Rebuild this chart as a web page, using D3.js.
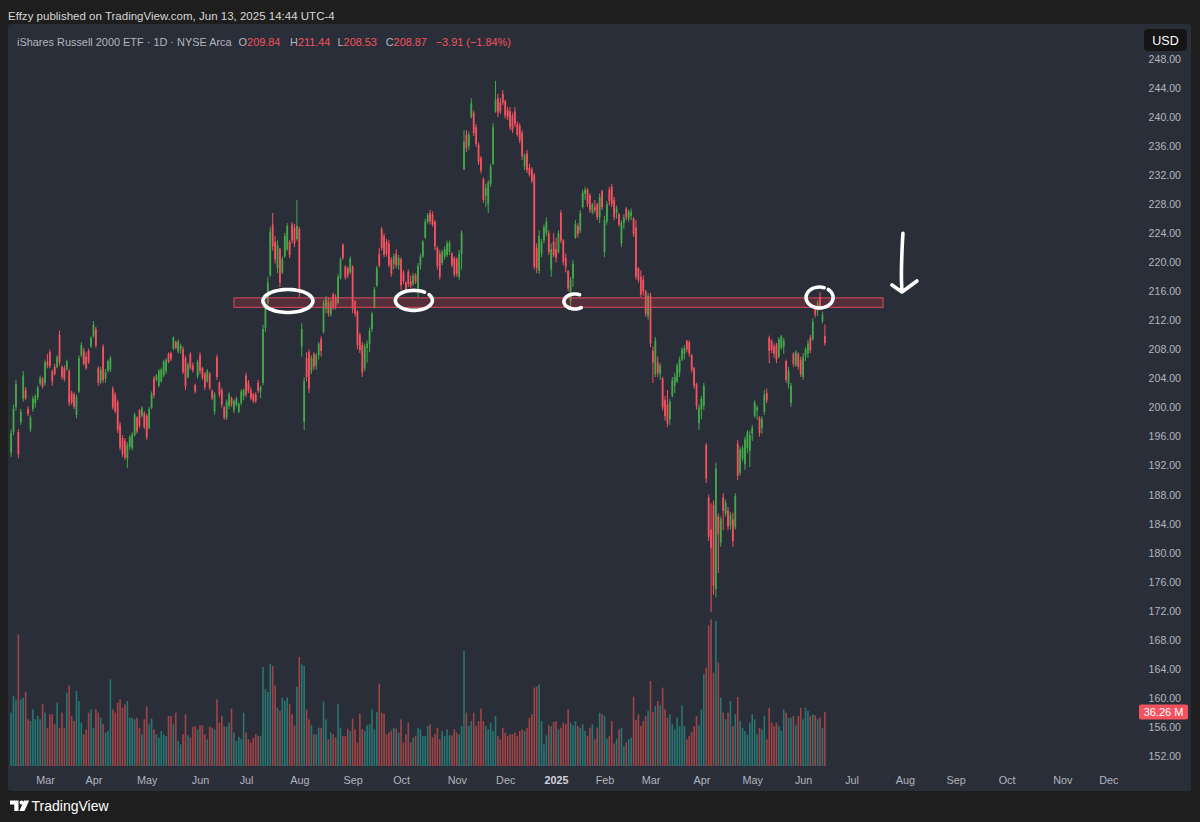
<!DOCTYPE html>
<html><head><meta charset="utf-8">
<script src="https://cdn.jsdelivr.net/npm/d3@7"></script>
<style>
html,body{margin:0;padding:0;background:#1e1e1e;overflow:hidden;}
svg{display:block;}
text{font-family:"Liberation Sans",Arial,sans-serif;}
</style></head><body>
<svg id="c" width="1200" height="822"></svg>
<script>
// ---------- DATA (IWM daily) ----------
const holidays = ["2024-02-19","2024-03-29","2024-05-27","2024-06-19","2024-07-04","2024-09-02","2024-11-28","2024-12-25",
  "2025-01-01","2025-01-09","2025-01-20","2025-02-17","2025-04-18","2025-05-26","2025-06-19","2025-07-04","2025-09-01","2025-11-27","2025-12-25"];
const firstDay = "2024-02-09", calendarEnd = "2025-12-31";

// [open, high, low, close]
const feb2024 = [[193.8,197.0,193.2,196.5],[196.6,200.4,196.2,199.8],[200.0,203.8,199.6,203.2],[196.6,197.0,193.0,193.6],[198.0,199.8,197.6,199.4],
[201.2,205.0,200.8,204.4],[202.4,202.8,201.0,201.3],[199.8,200.2,198.8,199.1],[197.0,198.9,196.6,198.6],[199.8,201.6,199.4,201.2],
[200.6,201.8,200.0,201.5],[201.4,203.0,201.0,202.7],[203.3,204.4,203.0,204.1],[203.9,204.2,202.6,202.9]];
const mar2024 = [[203.4,206.6,203.0,206.2],[206.3,207.4,205.4,205.8],[207.6,208.0,205.4,205.7],[205.0,205.2,203.0,203.6],[205.6,206.0,204.4,204.6],
[205.6,207.2,205.4,206.9],[210.0,210.6,205.8,206.2],[205.6,205.8,203.8,204.2],[205.4,205.8,203.6,203.9],[205.3,206.6,205.0,206.3],
[205.0,205.3,200.2,200.6],[202.0,202.3,200.4,200.7],[201.8,202.1,199.8,200.1],[199.0,201.8,198.5,201.5],[202.2,207.2,202.0,206.8],
[207.2,209.0,206.9,208.6],[207.8,208.2,205.8,206.0],[207.0,207.6,205.2,205.4],[207.8,208.1,206.0,206.3],[208.4,209.8,208.2,209.6]];
const apr2024 = [[209.8,211.9,209.6,211.4],[210.8,211.1,208.2,208.5],[205.4,205.7,203.0,203.4],[203.6,205.6,203.2,205.2],[208.4,208.7,203.4,203.8],
[204.0,205.3,203.4,204.8],[205.1,206.6,204.8,206.4],[205.2,207.1,204.9,206.8],[202.6,202.9,199.7,200.0],[201.8,202.1,199.2,199.5],
[200.8,201.1,196.5,196.9],[197.6,198.0,194.1,194.5],[195.8,196.2,193.2,193.6],[195.4,195.8,192.8,193.1],[193.0,195.2,191.7,194.8],
[194.6,196.2,194.2,195.9],[194.4,196.6,194.1,196.3],[196.2,199.3,196.0,199.0],[198.6,198.8,196.4,196.7],[199.6,199.8,197.2,197.5],
[198.9,200.2,198.6,199.9],[199.2,199.5,197.0,197.3]];
const may2024 = [[198.8,199.1,195.5,195.9],[197.2,200.1,197.0,199.8],[200.0,202.2,199.8,201.9],[204.0,204.3,201.3,201.7],[203.8,204.6,203.6,204.4],
[203.0,205.3,202.8,205.0],[203.6,205.5,203.4,205.2],[204.4,206.6,204.2,206.3],[205.0,206.8,204.6,206.5],[207.4,207.6,206.1,206.3],
[207.5,207.7,206.4,206.7],[208.1,209.8,207.9,209.6],[209.0,209.2,208.0,208.2],[207.7,209.4,207.5,209.1],[208.0,208.8,207.4,208.5],
[208.0,208.4,204.6,204.9],[206.8,207.1,202.4,202.9],[204.2,206.2,204.0,205.9],[207.4,207.6,205.2,205.5],[205.8,206.2,204.8,205.1],
[203.1,203.3,201.9,202.2],[204.3,206.6,204.0,206.3]];
const jun2024 = [[207.2,207.6,204.6,205.0],[205.4,205.6,203.8,204.1],[204.6,204.9,202.4,202.8],[203.6,205.3,203.4,205.0],[204.6,204.9,202.4,202.7],
[202.3,202.5,201.0,201.3],[199.4,202.1,199.0,201.8],[206.9,207.3,203.8,204.2],[203.4,203.6,201.4,201.8],[202.4,202.7,200.0,200.4],
[200.0,200.2,198.3,198.6],[198.6,201.1,198.3,200.8],[200.2,202.1,199.8,201.8],[201.3,201.5,200.1,200.4],[199.6,201.1,199.2,200.9],
[200.4,201.5,200.1,201.2],[199.4,200.7,199.2,200.5],[200.6,202.5,200.3,202.2],[201.6,202.6,201.0,202.4]];
const jul2024 = [[204.4,204.8,201.4,201.8],[203.4,203.8,202.0,202.3],[202.4,202.8,201.0,201.3],[201.8,202.0,200.6,200.9],[201.8,202.1,200.6,200.9],
[203.4,203.8,202.0,202.3],[202.2,203.0,201.3,202.8],[203.4,211.4,203.0,210.8],[211.0,214.6,210.4,213.8],[214.4,218.0,213.6,217.2],
[218.2,224.9,218.0,224.2],[225.2,226.8,221.6,222.2],[222.8,223.6,219.8,220.4],[219.2,223.0,218.5,222.4],[221.8,222.0,216.6,217.2],
[218.6,220.8,218.4,220.4],[220.8,224.0,220.6,223.6],[221.8,225.4,221.6,225.0],[222.8,223.1,220.6,221.0],[225.2,225.5,222.6,223.0],
[224.8,225.3,222.1,222.6],[223.2,228.6,223.0,225.0]];
const aug2024 = [[224.6,224.9,215.2,215.8],[208.4,211.6,207.0,210.8],[198.0,204.2,196.9,203.6],[206.8,207.6,203.6,204.2],[207.6,208.0,202.0,202.6],
[205.0,207.2,204.6,206.8],[207.4,207.6,205.2,205.6],[205.8,207.5,205.2,207.2],[207.2,209.0,206.6,208.8],[209.4,209.8,207.0,207.8],
[210.4,214.8,210.2,214.4],[213.6,215.4,213.0,215.0],[214.6,215.2,212.5,213.0],[212.8,215.0,212.5,214.6],[215.6,215.8,213.4,213.8],
[215.2,215.6,213.5,214.0],[214.4,218.4,214.2,218.0],[217.8,220.7,217.6,220.4],[222.4,222.6,220.3,220.6],[219.4,219.6,217.6,217.9],
[219.2,219.4,217.8,218.2],[218.6,220.8,218.4,220.5]];
const sep2024 = [[219.4,219.6,213.0,213.6],[214.6,214.8,212.5,212.9],[213.2,213.4,208.0,208.6],[210.0,210.3,207.5,207.9],[208.6,209.0,204.2,204.8],
[205.4,208.8,205.0,208.4],[208.2,209.2,206.2,208.8],[208.8,211.0,207.6,210.6],[210.8,213.2,210.4,212.9],[213.8,216.6,213.6,216.2],
[216.8,219.5,216.6,219.2],[221.2,222.0,219.3,219.6],[224.6,224.9,221.6,222.0],[223.6,224.0,220.7,221.0],[222.8,223.2,220.8,221.2],
[222.6,223.1,219.3,219.6],[220.4,220.7,218.0,218.4],[219.8,221.2,219.0,220.8],[221.2,221.8,219.2,219.6],[219.6,221.0,219.0,220.6]];
const oct2024 = [[220.4,220.7,216.2,216.8],[218.6,218.9,217.0,217.4],[217.2,217.4,215.8,216.0],[218.7,219.0,216.6,217.0],[217.4,218.2,216.4,216.8],
[217.0,218.5,216.7,218.2],[218.2,218.5,217.0,217.3],[216.0,219.9,215.2,219.5],[219.6,221.2,219.0,220.8],[220.8,223.1,220.6,222.8],
[223.4,226.0,223.2,225.6],[225.6,226.8,225.3,226.5],[226.8,227.2,225.2,225.6],[226.6,227.0,224.9,225.2],[225.6,225.8,221.7,222.2],
[222.0,222.2,219.0,219.5],[221.2,221.7,217.6,218.0],[219.9,221.7,219.6,221.4],[220.8,222.2,220.4,221.8],[221.0,223.0,220.7,222.6],
[221.4,223.0,221.0,222.7],[221.2,221.4,219.3,219.6],[220.6,220.8,218.0,218.3]];
const nov2024 = [[220.4,220.7,218.0,218.4],[218.0,221.7,217.6,221.2],[221.2,224.4,219.0,224.1],[232.8,238.2,232.7,236.6],[237.6,238.2,235.2,235.8],
[236.0,238.0,235.5,237.6],[240.0,242.6,239.8,241.9],[240.6,240.9,237.4,237.8],[238.6,239.0,235.9,236.3],[236.2,236.5,233.4,233.8],
[234.4,234.6,232.2,232.6],[231.4,231.7,228.2,228.6],[229.2,230.8,227.6,230.2],[228.0,231.3,226.8,231.0],[230.8,233.6,230.4,233.2],
[233.6,239.2,233.4,238.6],[240.8,245.0,240.6,242.4],[242.6,243.2,240.0,240.6],[242.0,242.6,240.4,240.8],[243.2,243.7,241.6,242.0]];
const dec2024 = [[242.2,242.4,239.8,240.2],[241.0,241.4,239.6,240.0],[240.8,241.4,238.2,238.6],[240.2,240.6,237.8,238.2],[240.8,241.4,238.6,239.0],
[239.0,239.4,237.3,237.6],[238.8,239.2,236.4,236.8],[237.8,238.2,234.1,234.6],[233.2,235.0,232.7,234.7],[235.0,235.5,232.3,232.7],
[233.0,233.6,231.8,232.1],[232.8,233.1,230.9,231.2],[232.0,232.3,219.0,219.4],[222.0,222.6,218.5,219.2],[218.8,224.4,218.4,223.6],
[221.2,223.2,220.7,222.8],[223.0,225.2,222.6,224.8],[224.0,226.2,223.6,225.6],[224.0,224.4,221.0,221.4],[219.0,222.6,218.0,221.8],
[222.8,224.0,220.7,221.0]];
const jan2025 = [[221.8,223.4,220.0,220.6],[221.4,224.4,221.2,224.0],[226.8,227.2,222.6,223.0],[223.0,223.2,219.6,220.0],[220.6,221.2,218.6,219.4],
[218.8,218.9,216.0,216.4],[214.6,218.0,213.8,217.6],[217.8,220.3,216.6,219.8],[223.4,225.8,223.2,225.2],[225.0,225.4,223.4,223.9],
[224.4,227.2,224.0,226.8],[227.6,230.0,227.4,229.6],[229.4,230.4,228.6,230.0],[230.0,230.2,227.6,228.0],[229.2,229.5,226.8,227.2],
[226.9,228.2,226.6,228.0],[227.6,228.6,226.8,227.2],[228.0,228.2,225.8,226.2],[226.2,229.5,225.4,229.0],[229.8,230.0,227.2,227.6]];
const feb2025 = [[221.4,226.4,220.7,225.8],[225.6,228.4,225.2,228.0],[230.0,230.4,227.8,228.4],[230.4,230.8,227.6,228.0],[228.6,229.0,225.8,226.2],
[226.8,227.8,226.0,227.4],[226.6,226.8,224.9,225.2],[222.6,225.8,222.1,225.4],[225.4,226.6,224.6,226.2],[227.4,227.6,225.8,226.2],
[226.0,227.2,225.6,227.0],[226.4,227.4,225.8,226.9],[226.0,226.2,223.5,223.9],[224.8,225.8,217.6,218.0],[219.2,219.3,217.2,217.6],
[218.0,218.9,215.2,215.6],[217.6,218.2,215.4,216.0],[216.0,216.2,212.5,212.9],[212.6,215.8,212.1,215.4]];
const mar2025 = [[215.4,215.8,208.3,208.8],[207.8,208.4,203.4,206.2],[204.6,209.7,204.2,209.2],[206.2,207.0,204.2,204.8],[204.6,206.1,203.8,205.8],
[204.0,204.2,199.6,200.0],[201.0,201.6,198.2,198.8],[200.4,202.4,197.3,197.8],[198.4,201.2,197.6,200.8],[201.6,204.2,201.4,203.8],
[203.0,204.8,202.0,204.2],[203.6,206.1,203.4,205.8],[204.8,207.0,204.2,206.6],[206.6,208.3,206.4,208.0],[207.4,208.6,206.6,208.2],
[209.2,209.3,207.6,208.0],[209.0,209.3,207.0,207.4],[207.2,207.4,204.8,205.2],[205.4,205.6,202.6,203.0],[203.2,203.4,199.7,200.2],
[197.8,200.4,196.9,200.0]];
const apr2025 = [[199.8,201.6,198.4,201.2],[200.2,203.4,199.6,203.0],[194.8,195.1,189.6,190.2],[187.6,188.0,181.6,182.2],[183.2,186.8,171.8,180.6],
[186.6,187.2,174.2,175.4],[175.0,192.4,173.8,191.6],[185.0,185.4,177.2,182.6],[181.4,185.0,180.8,184.6],[187.6,188.2,183.1,185.8],
[185.4,187.3,185.0,186.9],[185.8,186.3,183.1,183.6],[183.8,185.6,183.2,185.2],[184.6,185.5,180.8,181.6],[183.6,188.2,183.2,187.8],
[195.0,195.5,190.0,190.6],[191.0,194.6,190.6,194.2],[193.0,194.8,192.6,194.4],[192.2,196.0,191.4,195.6],[194.4,196.9,193.7,196.6],
[194.0,196.8,191.8,196.2]];
const may2025 = [[196.4,197.6,195.4,197.2],[198.8,201.0,198.6,200.7],[199.6,200.3,198.3,200.0],[198.6,198.8,196.0,196.5],[197.2,198.8,196.4,198.4],
[199.4,202.4,199.0,201.8],[202.0,202.6,200.6,201.0],[209.6,209.9,206.1,207.8],[209.2,209.4,207.5,207.9],[208.4,208.8,206.8,207.4],
[208.6,208.9,206.1,206.6],[207.0,209.7,206.8,209.4],[208.2,210.0,208.0,209.8],[208.4,209.6,207.4,209.2],[206.4,206.6,203.4,203.8],
[203.2,205.6,202.6,205.0],[200.6,203.4,200.1,203.0],[207.4,207.6,205.6,206.0],[205.8,207.9,205.6,207.6],[207.4,207.6,205.2,205.6],
[206.6,207.0,204.2,204.6]];
const jun2025 = [[204.2,207.5,203.8,207.0],[207.0,208.3,206.4,208.0],[207.4,209.3,206.8,208.8],[209.6,210.0,207.5,207.9],[209.4,212.3,209.2,211.8],
[213.6,214.1,212.4,212.8],[213.4,214.8,212.6,214.4],[215.2,215.9,213.4,213.7],[211.9,213.2,211.6,212.78],[209.84,211.44,208.53,208.87]];

// volume, millions of shares
const volumeFirstHalf = [35.8,47,44.7,88.4,44.7,45.9,49.7,31.3,30.2,
38,31.3,33.6,31.3,41.4,35.8,25.7,34.7,34.7,28,
42.5,25.7,35.8,25.7,49.2,54.1,33.6,30.2,50.3,43.6,
29.1,21.3,24.6,35.8,38,25.7,38,35.8,32.4,28,
22.4,23.5,58.2,38,35.8,42.5,44.7,39.1,41.4,43.6,
32.4,32.4,31.3,32.4,25.7,21.3,31.3,39.8,28,31.8,
24.6,21.3,19,23.5,21.3,20.1,33.6,33.6,28,35.8,
16.8,14.5,21.3,34.7,20.6,19,26.2,26.8,24.6,27.3,
27.3,21.3,17.9,26.4,25.7,24.6,44.7,29.1,33.6,26.4,
26.4,29.1,38.5,22.4,16.8,19.7,17.9,35.8,22.4,17.9,
15.7,19,21.3,20.1,20.1,66.4,51.5,49.7,68.7,67.1,
54.1,39.1,36.9,45.9,43.6,45.9,41.8,34.7,27.3,53.2,
73.2,68.2,67.1,38,31.3,27.3,21.3,21.3,25.7,25.7,
43.2,31.3,17.9,22.4,21.3,19,41.4,25.7,20.1,20.1,
25.1,23.5,31.8,24.6,15.7,35.1,24.6,23.5,27.3,28,
38,24.6,36.2,55.3,35.8,35.1,21.3,22.4,23.9,25.7,
25.1,22.4,31.3,15.7,21.3,29.1,15.7,19,20.1,25.7];
const volumeSecondHalf = [24.6,20.1,20.1,26.8,28,19,21.3,25.7,17.9,23.5,
20.1,24.6,20.6,20.6,24.6,22.4,21.3,26.8,77.2,35.8,
26.8,30.2,35.8,26.8,30.2,38.5,30.2,26.8,24.6,29.1,
23.5,33.6,20.1,17.9,25.7,22.4,20.1,21.3,21.3,22.4,
20.1,23.5,24.6,23.5,25.7,32.4,34.7,52.6,53.2,54.8,
30.2,14.5,20.6,27.3,26.8,29.5,30.2,24.6,25.7,29.1,
28,38,29.1,27.3,30.2,26.8,25.7,28,23.5,20.1,
25.7,28,17.9,25.7,35.8,34.7,33.6,18.3,20.1,30.2,
15.2,18.3,24.6,25.7,13.4,15.7,17.9,19,46.5,30.9,
34.7,26.8,30.2,33.6,36.9,57,36.2,40.3,43.6,40.7,
52.6,38,32.4,34.7,28,24.6,32.4,26.8,40.7,26.8,
17.9,20.1,22.8,26.8,33.6,27.3,38,61.5,66,94.4,
98.4,62.6,97.3,69.4,45.9,35.8,31.3,35.8,43.6,26.8,
34.7,46.3,30.2,25.7,23.5,21.3,29.1,34.7,31.3,21.3,
25.7,24.6,33.6,17.9,39.1,29.1,26.8,29.1,26.8,23.5,
38,35.8,32.4,32.4,33.6,27.3,33.6,39.1,31.3,39.1,
36.9,33.6,34.7,34,31.3,32.4,25.7,36.26];

const priceTicks = [152,156,160,164,168,172,176,180,184,188,192,196,200,204,208,212,216,220,224,228,232,236,240,244,248];
const monthNames = ["Jan","Feb","Mar","Apr","May","Jun","Jul","Aug","Sep","Oct","Nov","Dec"];
const zone = {from:"2024-06-24", to:"2025-07-21", low:213.8, high:215.1};
// hand drawn marks: position in bar-index and price units
const sketches = [
  {kind:"loop", at:114.3, price:214.67, rx:25, ry:11.5, a0:-20, a1:350},
  {kind:"loop", at:166.3, price:214.75, rx:18.5, ry:10, a0:-35, a1:305},
  {kind:"hook", at:232.8, price:214.6, rx:11, ry:7.5, a0:55, a1:300},
  {kind:"loop", at:333.8, price:215.15, rx:13.5, ry:10.5, a0:-50, a1:295},
  {kind:"arrow", at:367.8, top:224.0, bottom:216.05}
];
const headerText = "Effzy published on TradingView.com, Jun 13, 2025 14:44 UTC-4";
const symbolText = "iShares Russell 2000 ETF · 1D · NYSE Arca";

// ---------- BUILD ----------
function tradingDays(start, end){
  const hs = new Set(holidays), out = [];
  const e = new Date(end+"T12:00:00Z");
  for(let d = new Date(start+"T12:00:00Z"); d <= e; d.setUTCDate(d.getUTCDate()+1)){
    const wd = d.getUTCDay(), s = d.toISOString().slice(0,10);
    if(wd===0||wd===6||hs.has(s)) continue;
    out.push(s);
  }
  return out;
}
const days = tradingDays(firstDay, calendarEnd);
const ohlc = [].concat(feb2024,mar2024,apr2024,may2024,jun2024,jul2024,aug2024,sep2024,oct2024,nov2024,dec2024,jan2025,feb2025,mar2025,apr2025,may2025,jun2025);
const volumes = volumeFirstHalf.concat(volumeSecondHalf);
const bars = ohlc.map((r,i)=>({i, date:days[i], o:r[0], h:r[1], l:r[2], c:r[3], v:volumes[i]}));

const UP = "#43a84a", DOWN = "#f4525f", VUP = "#26a69a", VDOWN = "#ef5350";
const W = 1200, H = 822;
const panel = {x:8, y:24, w:1183, h:767};

const x = d3.scaleLinear().domain([0, bars.length-1]).range([11.1, 824.9]);
const y = d3.scaleLinear().domain([152, 248]).range([756, 59]);
const yv = d3.scaleLinear().domain([0, 100]).range([766, 617]);
const idxOf = d => days.indexOf(d);

const svg = d3.select("#c");
svg.append("rect").attr("width",W).attr("height",H).attr("fill","#1e1e1e");
svg.append("rect").attr("x",panel.x).attr("y",panel.y).attr("width",panel.w).attr("height",panel.h).attr("rx",3).attr("fill","#2a2e39");

svg.append("defs").append("clipPath").attr("id","plot").append("rect")
  .attr("x",panel.x).attr("y",panel.y).attr("width",1128).attr("height",745);

// header
const hdr = svg.append("text").attr("x",8).attr("y",19.5).attr("font-size",12).attr("fill","#d6d6d6").text(headerText);
function fit(sel, width){ const w = sel.node().getComputedTextLength(); sel.attr("font-size", +sel.attr("font-size")*width/w); }
fit(hdr, 327);

// legend
const last = bars[bars.length-1], prev = bars[bars.length-2];
const sym = svg.append("text").attr("x",17).attr("y",45.5).attr("font-size",12).attr("fill","#b2b5be").text(symbolText);
fit(sym, 215);
const lfs = +sym.attr("font-size");
const fmt = d3.format(".2f");
const legendItems = [["O",last.o,238.6],["H",last.h,290],["L",last.l,337.5],["C",last.c,385.7]];
legendItems.forEach(([k,v,px])=>{
  const t = svg.append("text").attr("x",px).attr("y",45.5).attr("font-size",lfs);
  t.append("tspan").attr("fill","#b2b5be").text(k);
  t.append("tspan").attr("fill",DOWN).text(fmt(v));
});
const chg = last.c - prev.c;
svg.append("text").attr("x",435.7).attr("y",45.5).attr("font-size",lfs).attr("fill",DOWN)
  .text(`${fmt(chg).replace("-","\u2212")} (${fmt(chg/prev.c*100).replace("-","\u2212")}%)`);

// plot layer
const plot = svg.append("g").attr("clip-path","url(#plot)");

// volume
plot.append("g").selectAll("rect").data(bars).join("rect")
  .attr("x",d=>x(d.i)-0.8).attr("width",1.6)
  .attr("y",d=>yv(d.v)).attr("height",d=>yv(0)-yv(d.v))
  .attr("fill",d=>d.c>=d.o?VUP:VDOWN).attr("fill-opacity",0.6);

// candles
const cg = plot.append("g");
cg.selectAll("line").data(bars).join("line")
  .attr("x1",d=>x(d.i)).attr("x2",d=>x(d.i))
  .attr("y1",d=>y(d.h)).attr("y2",d=>y(d.l))
  .attr("stroke",d=>d.c>=d.o?UP:DOWN).attr("stroke-width",1);
cg.selectAll("rect").data(bars).join("rect")
  .attr("x",d=>x(d.i)-0.9).attr("width",1.8)
  .attr("y",d=>y(Math.max(d.o,d.c)))
  .attr("height",d=>Math.max(1, Math.abs(y(d.o)-y(d.c))))
  .attr("fill",d=>d.c>=d.o?UP:DOWN);

// zone rectangle
plot.append("rect")
  .attr("x",x(idxOf(zone.from))).attr("width",x(idxOf(zone.to))-x(idxOf(zone.from)))
  .attr("y",y(zone.high)).attr("height",y(zone.low)-y(zone.high))
  .attr("fill","#f23645").attr("fill-opacity",0.22)
  .attr("stroke","#e04a5c").attr("stroke-width",1);

// sketches
const sk = plot.append("g").attr("fill","none").attr("stroke","#ffffff").attr("stroke-width",3.6)
  .attr("stroke-linecap","round").attr("stroke-linejoin","round");
const curve = d3.line().curve(d3.curveCatmullRom);
sketches.forEach(s=>{
  const cx = x(s.at);
  if(s.kind==="arrow"){
    const yt = y(s.top), yb = y(s.bottom);
    sk.append("path").attr("d", curve([[cx+1,yt],[cx,yt+20],[cx-0.5,yb-15],[cx,yb]]));
    sk.append("path").attr("d", d3.line()([[cx-10,yb-6],[cx,yb+1],[cx+15,yb-10]]));
    return;
  }
  const cy = y(s.price), pts = [];
  for(let a=s.a0; a<=s.a1; a+=10){
    const r = a*Math.PI/180;
    pts.push([cx + s.rx*Math.cos(r), cy + s.ry*Math.sin(r)]);
  }
  sk.append("path").attr("d", curve(pts));
});

// price axis
const yAxis = d3.axisLeft(y).tickValues(priceTicks).tickFormat(fmt).tickSize(0).tickPadding(0);
const ya = svg.append("g").attr("transform","translate(1181,0)").call(yAxis);
ya.select(".domain").remove();
ya.selectAll("text").attr("fill","#b2b5be").attr("font-size",10.6).attr("font-family","'Liberation Sans',Arial,sans-serif");

// time axis
const monthStarts = [];
days.forEach((d,i)=>{ if(i>0 && d.slice(0,7)!==days[i-1].slice(0,7)) monthStarts.push(i); });
const xAxis = d3.axisBottom(x).tickValues(monthStarts).tickSize(0).tickPadding(0)
  .tickFormat(i=>{ const [yy,mm] = days[i].split("-"); return mm==="01" ? yy : monthNames[+mm-1]; });
const xa = svg.append("g").attr("transform","translate(0,776)").call(xAxis);
xa.select(".domain").remove();
xa.selectAll("text").attr("font-size",10.8).attr("font-family","'Liberation Sans',Arial,sans-serif")
  .attr("font-weight",i=>days[i].slice(5,7)==="01"?"bold":null)
  .attr("fill",i=>days[i].slice(5,7)==="01"?"#d1d4dc":"#b2b5be");

// volume label
const vy = yv(last.v);
svg.append("rect").attr("x",1139).attr("y",vy-7.5).attr("width",49).attr("height",15).attr("rx",2).attr("fill",DOWN);
svg.append("text").attr("x",1163.5).attr("y",vy+4).attr("text-anchor","middle").attr("font-size",11).attr("fill","#ffffff")
  .text(d3.format(".2f")(last.v)+" M");

// USD button
svg.append("rect").attr("x",1144).attr("y",29).attr("width",43).attr("height",22).attr("rx",4).attr("fill","#151515");
svg.append("text").attr("x",1165.5).attr("y",44.5).attr("text-anchor","middle").attr("font-size",12.5).attr("fill","#ffffff").text("USD");

// footer logo
const lg = svg.append("g").attr("fill","#ffffff");
lg.append("path").attr("d","M10,800.5 H18.5 V811 H14.3 V804.6 H10 Z");
lg.append("circle").attr("cx",21.6).attr("cy",802.6).attr("r",2.1);
lg.append("path").attr("d","M24,800.5 H29.2 L24.4,811 H19.4 Z");
svg.append("text").attr("x",31.5).attr("y",811).attr("font-size",14).attr("fill","#ffffff").attr("font-family","Roboto,'Liberation Sans',sans-serif").text("TradingView");
</script></body></html>
